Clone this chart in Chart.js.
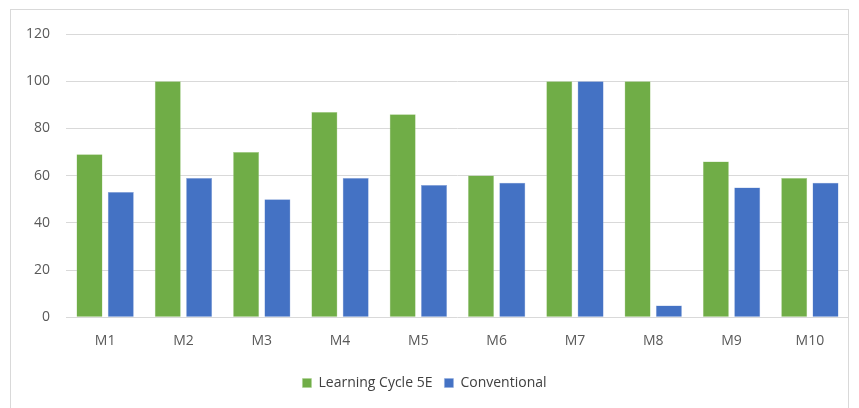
<!DOCTYPE html>
<html>
<head>
<meta charset="utf-8">
<script src="https://cdn.jsdelivr.net/npm/chart.js@4"></script>
<style>
  html, body { margin: 0; padding: 0; background: #fff; }
  body { width: 859px; height: 408px; position: relative; overflow: hidden; }
  #frame { position: absolute; left: 10px; top: 9px; width: 839px; height: 420px; border: 1px solid #d9d9d9; box-sizing: border-box; }
  #wrap { position: absolute; left: 0; top: 0; width: 859px; height: 408px; }
</style>
</head>
<body>
<div id="frame"></div>
<div id="wrap"><canvas id="chart"></canvas></div>
<script>
// valores
const categorias = ['M1', 'M2', 'M3', 'M4', 'M5', 'M6', 'M7', 'M8', 'M9', 'M10'];
const learningCycle = [69, 100, 70, 87, 86, 60, 100, 100, 66, 59];
const convencional = [53, 59, 50, 59, 56, 57, 100, 5, 55, 57];
const ticksY = [0, 20, 40, 60, 80, 100, 120];

const fonte = "'Open Sans', 'Noto Sans', sans-serif";
const cinza = '#595959';

const ctx = document.getElementById('chart');
new Chart(ctx, {
    type: 'bar',
    data: {
        labels: categorias,
        datasets: [
            {
                label: 'Learning Cycle 5E',
                data: learningCycle,
                backgroundColor: '#70ad47',
                borderColor: '#a9d08e',
                borderWidth: 0.5,
                categoryPercentage: 0.8,
                barPercentage: 0.83
            },
            {
                label: 'Conventional',
                data: convencional,
                backgroundColor: '#4472c4',
                borderColor: '#8faadc',
                borderWidth: 0.5,
                categoryPercentage: 0.8,
                barPercentage: 0.83
            }
        ]
    },
    options: {
        responsive: true,
        maintainAspectRatio: false,
        animation: false,
        layout: { padding: { left: 0, right: 10, top: 34, bottom: 8 } },
        plugins: {
            tooltip: { enabled: false },
            legend: {
                position: 'bottom',
                labels: {
                    boxWidth: 9,
                    boxHeight: 9,
                    padding: 12,
                    color: '#404040',
                    font: { family: fonte, size: 14 }
                }
            }
        },
        scales: {
            x: {
                grid: { display: false, drawTicks: false },
                border: { display: false },
                ticks: { padding: 15, color: cinza, font: { family: fonte, size: 14 } }
            },
            y: {
                min: 0,
                max: 120,
                afterBuildTicks: (scale) => { scale.ticks = ticksY.map(v => ({ value: v })); },
                afterFit: (scale) => { scale.width = 66; },
                grid: { color: '#d9d9d9', drawTicks: false, lineWidth: 1 },
                border: { display: false },
                ticks: { padding: 16, color: cinza, font: { family: fonte, size: 14 } }
            }
        }
    }
});
</script>
</body>
</html>
